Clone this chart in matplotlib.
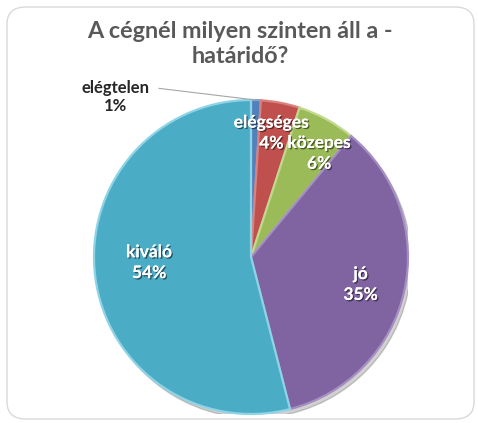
import matplotlib.pyplot as plt
import numpy as np
from matplotlib.patches import FancyBboxPatch
import matplotlib.patheffects as pe

categories = ['elégtelen', 'elégséges', 'közepes', 'jó', 'kiváló']
values = [1, 4, 6, 35, 54]
colors = ['#4F81BD', '#C0504D', '#9BBB59', '#8064A2', '#4BACC6']
edge_colors = ['#7FA3D3', '#D9827F', '#C0D98E', '#A58FC2', '#8ED3E6']
# radial distance of each label (fraction of radius), angle nudges in degrees
label_r = [None, 0.80, 0.79, 0.72, 0.65]
label_nudge = [0, 1.5, -4.5, -1.5, -4]

plt.rcParams['font.family'] = ['Lato', 'DejaVu Sans']

fig = plt.figure(figsize=(4.78, 4.23), dpi=100)
fig.patches.append(FancyBboxPatch((7 / 478, 4 / 423), 467 / 478, 412 / 423,
                                  boxstyle='round,pad=0,rounding_size=0.04',
                                  transform=fig.transFigure, facecolor='white',
                                  edgecolor='#D9D9D9', linewidth=1.0, zorder=-5))

fig.text(0.502, 0.896, 'A cégnél milyen szinten áll a -\nhatáridő?', ha='center', va='center',
         fontsize=16.8, fontweight='bold', color='#595959', linespacing=1.2)

ax = fig.add_axes([94 / 478, 9 / 423, 314 / 478, 314 / 423])
ax.set_zorder(2)

# soft shadow under the pie
shadow = plt.Circle((0.02, -0.025), 1.0, color='black', alpha=0.18, zorder=0)
ax.add_patch(shadow)

wedges, _ = ax.pie(values, colors=colors, startangle=90, counterclock=False, radius=1.0,
                   wedgeprops=dict(linewidth=1.6))
for w, ec in zip(wedges, edge_colors):
    w.set_edgecolor(ec)
    w.set_zorder(2)

shadow_fx = [pe.withSimplePatchShadow(offset=(1, -1), shadow_rgbFace='black', alpha=0.5), pe.Normal()]

total = sum(values)
cum = np.cumsum([0] + values)
for i, (cat, v) in enumerate(zip(categories, values)):
    mid = 90 - 360 * (cum[i] + v / 2) / total
    pct = f'{round(100 * v / total)}%'
    if label_r[i] is None:
        a = np.radians(mid)
        ax.annotate(f'{cat}\n{pct}', xy=(np.cos(a) * 1.0, np.sin(a) * 1.0),
                    xytext=(-0.865, 1.02), ha='center', va='center', fontsize=12,
                    fontweight='bold', color='#262626', linespacing=1.2,
                    arrowprops=dict(arrowstyle='-', color='#A6A6A6', lw=0.8,
                                    shrinkA=5, shrinkB=0, relpos=(1.0, 0.78),
                                    connectionstyle='arc3'),
                    annotation_clip=False, zorder=5)
        continue
    a = np.radians(mid + label_nudge[i])
    pos = (np.cos(a) * label_r[i], np.sin(a) * label_r[i])
    # name and percentage as two lines, drawn separately
    for txt, dy in ((cat, 7.5), (pct, -7.5)):
        ax.annotate(txt, xy=pos, xytext=(0, dy), textcoords='offset points',
                    ha='center', va='center', fontsize=12.5, fontweight='bold',
                    color='white', zorder=5, path_effects=shadow_fx)

ax.set_xlim(-1, 1)
ax.set_ylim(-1, 1)
ax.set_aspect('equal')
ax.axis('off')

fig.savefig('out.png', dpi=100, facecolor='white')
